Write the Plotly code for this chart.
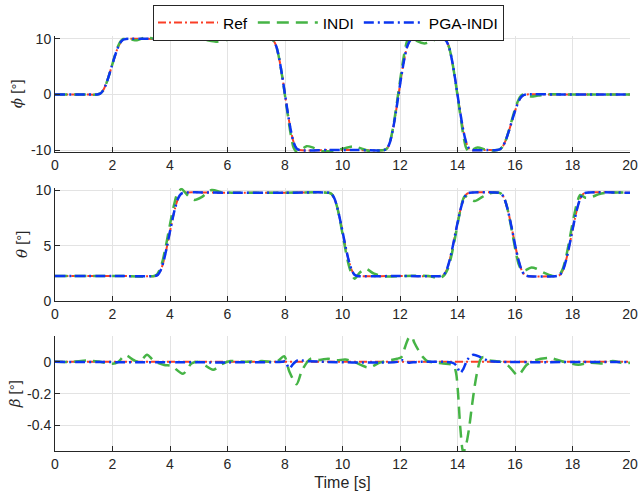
import plotly.graph_objects as go

# ---------------- data ----------------
legend_names = ["Ref", "INDI", "PGA-INDI"]
x_ticks = [0, 2, 4, 6, 8, 10, 12, 14, 16, 18, 20]
phi_ticks = [-10, 0, 10]
phi_ticktext = ["-10", "0", "10"]
theta_ticks = [0, 5, 10]
theta_ticktext = ["0", "5", "10"]
beta_ticks = [-0.4, -0.2, 0]
beta_ticktext = ["-0.4", "-0.2", "0"]

# phi [deg]
t_ref_phi = [0, 1.0, 1.47,
             1.57, 1.67, 1.77, 1.87, 1.97, 2.07, 2.17, 2.27, 2.37, 2.47,
             3.5, 5.0, 6.5, 7.5,
             7.6, 7.7, 7.8, 7.9, 8.0, 8.1, 8.2, 8.3, 8.4, 8.5,
             9.5, 10.5, 11.45,
             11.55, 11.65, 11.75, 11.85, 11.95, 12.05, 12.15, 12.25, 12.35, 12.45,
             13.0, 13.5,
             13.6, 13.7, 13.8, 13.9, 14.0, 14.1, 14.2, 14.3, 14.4, 14.5,
             15.0, 15.38,
             15.48, 15.58, 15.68, 15.78, 15.88, 15.98, 16.08, 16.18, 16.28, 16.38,
             17.5, 19.0, 20.0]
ref_phi = [0, 0, 0,
           0.15, 0.7, 1.8, 3.3, 5.0, 6.7, 8.2, 9.3, 9.85, 10,
           10, 10, 10, 10,
           9.7, 8.6, 6.4, 3.4, 0, -3.4, -6.4, -8.6, -9.7, -10,
           -10, -10, -10,
           -9.7, -8.6, -6.4, -3.4, 0, 3.4, 6.4, 8.6, 9.7, 10,
           10, 10,
           9.7, 8.6, 6.4, 3.4, 0, -3.4, -6.4, -8.6, -9.7, -10,
           -10, -10,
           -9.85, -9.3, -8.2, -6.7, -5.0, -3.3, -1.8, -0.7, -0.15, 0,
           0, 0, 0]
t_pga_phi = list(t_ref_phi)
pga_phi = list(ref_phi)
t_indi_phi = [0, 1.0, 1.47, 1.57, 1.67, 1.77, 1.87, 1.97, 2.07, 2.17,
              2.27, 2.37, 2.5, 2.65, 2.85, 3.15, 3.45, 4.0, 4.8, 5.2,
              5.6, 6.0, 6.4, 6.8, 7.3, 7.5, 7.6, 7.7, 7.8, 7.9,
              8.0, 8.1, 8.2, 8.3, 8.4, 8.55, 8.75, 9.0, 9.3, 9.7,
              10.05, 10.4, 10.7, 10.95, 11.2, 11.45, 11.55, 11.65, 11.75, 11.85,
              11.95, 12.05, 12.15, 12.25, 12.35, 12.45, 12.6, 12.85, 13.1, 13.4,
              13.5, 13.6, 13.7, 13.8, 13.9, 14.0, 14.1, 14.2, 14.3, 14.4,
              14.5, 14.7, 14.95, 15.2, 15.38, 15.48, 15.58, 15.68, 15.78, 15.88,
              15.98, 16.08, 16.18, 16.28, 16.38, 16.55, 16.8, 17.2, 18.0, 20.0]
indi_phi = [0, 0, 0, 0.15, 0.7, 1.8, 3.3, 5.0, 6.8, 8.4,
            9.5, 10.0, 10.05, 9.9, 9.75, 10.3, 10.05, 10.0, 10.0, 9.85,
            9.5, 9.85, 10.15, 10.05, 10.0, 10.0, 9.7, 8.6, 6.4, 3.3,
            -0.2, -3.8, -7.2, -9.6, -10.3, -10.0, -9.3, -9.6, -10.2, -10.1,
            -9.7, -9.35, -9.8, -10.2, -10.1, -10.0, -9.7, -8.5, -6.2, -3.0,
            0.6, 4.2, 7.4, 9.7, 10.5, 10.2, 9.6, 9.2, 9.6, 10.3,
            10.1, 9.6, 8.6, 6.4, 3.3, -0.2, -3.8, -7.2, -9.6, -10.3,
            -10.0, -9.55, -9.85, -10.1, -10.0, -9.85, -9.3, -8.2, -6.6, -4.8,
            -3.0, -1.5, -0.4, 0.0, -0.1, -0.35, -0.2, 0.05, 0, 0]

# theta [deg]
t_ref_theta = [0, 2.0, 3.48,
               3.58, 3.68, 3.78, 3.88, 3.98, 4.08, 4.18, 4.28, 4.38, 4.48,
               6.0, 8.0, 9.52,
               9.62, 9.72, 9.82, 9.92, 10.02, 10.12, 10.22, 10.32, 10.42, 10.52,
               12.0, 13.42,
               13.52, 13.62, 13.72, 13.82, 13.92, 14.02, 14.12, 14.22, 14.32, 14.42,
               15.43,
               15.53, 15.63, 15.73, 15.83, 15.93, 16.03, 16.13, 16.23, 16.33, 16.43,
               17.47,
               17.57, 17.67, 17.77, 17.87, 17.97, 18.07, 18.17, 18.27, 18.37, 18.47,
               20.0]
ref_theta = [2.25, 2.25, 2.25,
             2.36, 2.78, 3.61, 4.74, 6.03, 7.31, 8.44, 9.27, 9.69, 9.8,
             9.8, 9.8, 9.8,
             9.69, 9.27, 8.44, 7.31, 6.03, 4.74, 3.61, 2.78, 2.36, 2.25,
             2.25, 2.25,
             2.36, 2.78, 3.61, 4.74, 6.03, 7.31, 8.44, 9.27, 9.69, 9.8,
             9.8,
             9.69, 9.27, 8.44, 7.31, 6.03, 4.74, 3.61, 2.78, 2.36, 2.25,
             2.25,
             2.36, 2.78, 3.61, 4.74, 6.03, 7.31, 8.44, 9.27, 9.69, 9.8,
             9.8]
t_pga_theta = list(t_ref_theta)
pga_theta = list(ref_theta)
t_indi_theta = [0, 2.0, 3.45,
                3.55, 3.65, 3.75, 3.85, 3.95, 4.05, 4.15, 4.25,
                4.4, 4.6, 4.85, 5.1, 5.45, 5.8, 6.3, 8.0,
                9.52, 9.62, 9.72, 9.82, 9.92, 10.02, 10.12, 10.22, 10.32, 10.42,
                10.6, 10.8, 11.1, 11.5, 12.2, 13.0, 13.3,
                13.45, 13.55, 13.65, 13.75, 13.85, 13.95, 14.05, 14.15, 14.25,
                14.4, 14.6, 14.85, 15.1,
                15.43, 15.53, 15.63, 15.73, 15.83, 15.93, 16.03, 16.13, 16.23,
                16.35, 16.55, 16.75, 17.0, 17.3,
                17.47, 17.57, 17.67, 17.77, 17.87, 17.97, 18.07, 18.17, 18.27,
                18.45, 18.65, 18.9, 19.2, 20.0]
indi_theta = [2.25, 2.25, 2.25,
              2.4, 2.85, 3.7, 4.9, 6.25, 7.6, 8.8, 9.7,
              10.15, 9.6, 9.15, 9.4, 10.05, 9.85, 9.8, 9.8,
              9.8, 9.69, 9.27, 8.44, 7.2, 5.8, 4.4, 3.2, 2.4, 2.0,
              2.55, 2.9, 2.45, 2.2, 2.25, 2.25, 2.05,
              2.15, 2.35, 2.8, 3.65, 4.85, 6.2, 7.6, 8.8, 9.5,
              9.3, 9.05, 9.4, 9.75,
              9.8, 9.69, 9.27, 8.44, 7.2, 5.8, 4.4, 3.3, 2.8,
              2.75, 3.0, 2.9, 2.55, 2.25,
              2.25, 2.45, 2.95, 3.9, 5.2, 6.6, 7.9, 9.0, 9.6,
              9.35, 9.4, 9.65, 9.8, 9.8]

# beta [deg]
t_ref_beta = [0, 20]
ref_beta = [0, 0]
t_pga_beta = [0, 7.9, 8.0, 8.15, 8.3, 8.45, 8.8, 11.9, 12.05, 12.3, 12.6,
              13.8, 13.95, 14.1, 14.2, 14.35, 14.55, 14.8, 15.1, 15.5, 20]
pga_beta = [0, 0, 0.003, -0.04, -0.01, 0.01, 0.004, 0.0, 0.012, -0.005, 0.0,
            -0.005, -0.02, -0.068, -0.045, 0.015, 0.045, 0.03, 0.005, 0.0, 0.0]
t_indi_beta = [0, 0.6, 1.1, 1.5, 2.0, 2.2, 2.45, 2.75, 2.95, 3.2,
               3.45, 3.8, 4.05, 4.45, 4.75, 5.0, 5.2, 5.5, 5.8, 6.1,
               6.6, 7.2, 7.7, 7.97, 8.15, 8.4, 8.6, 8.9, 9.2, 9.5,
               9.8, 10.1, 10.4, 10.9, 11.3, 11.9, 12.05, 12.18, 12.3, 12.4,
               12.5, 12.65, 12.8, 12.95, 13.2, 13.5, 13.85, 13.95, 14.02, 14.1,
               14.2, 14.3, 14.4, 14.5, 14.6, 14.7, 14.8, 14.9, 15.1, 15.5,
               15.8, 16.1, 16.4, 16.7, 17.2, 17.6, 18.2, 18.6, 19.0, 19.4,
               19.8, 20.0]
indi_beta = [0, 0, 0.008, 0.003, -0.012, 0.0, 0.042, 0.01, 0.0, 0.045,
             0.005, -0.02, -0.025, -0.075, -0.01, 0.0, -0.02, -0.05, -0.015, 0.005,
             0.0, 0.005, 0.0, 0.035, -0.06, -0.14, -0.05, 0.02, 0.012, 0.02,
             0.01, 0.015, 0.0, -0.035, -0.005, 0.02, 0.03, 0.095, 0.15, 0.16,
             0.12, 0.07, 0.03, 0.005, -0.005, -0.01, -0.02, -0.07, -0.2, -0.42,
             -0.57, -0.52, -0.42, -0.28, -0.15, -0.05, 0.015, 0.03, 0.01, 0.0,
             -0.03, -0.085, -0.02, 0.01, 0.025, 0.005, -0.018, -0.005, -0.01, 0.005,
             -0.01, -0.005]

# ---------------- styles ----------------
RED, GREEN, BLUE = "#FA3E26", "#46B446", "#0B36F0"
styles = [
    dict(color=RED, width=2, dash="8px,3px,2px,3px"),
    dict(color=GREEN, width=2.5, dash="12px,7px"),
    dict(color=BLUE, width=2.5, dash="10px,4px,2px,4px"),
]

panels = [
    ("x", "y", [(t_ref_phi, ref_phi), (t_indi_phi, indi_phi), (t_pga_phi, pga_phi)]),
    ("x2", "y2", [(t_ref_theta, ref_theta), (t_indi_theta, indi_theta), (t_pga_theta, pga_theta)]),
    ("x3", "y3", [(t_ref_beta, ref_beta), (t_indi_beta, indi_beta), (t_pga_beta, pga_beta)]),
]

fig = go.Figure()
for p, (xa, ya, series) in enumerate(panels):
    for k, (tt, vv) in enumerate(series):
        fig.add_trace(go.Scatter(
            x=tt, y=vv, mode="lines", xaxis=xa, yaxis=ya,
            name=legend_names[k], legendgroup=legend_names[k],
            showlegend=(p == 0),
            line=dict(shape="spline", smoothing=0.8, **styles[k]),
        ))

FONT = "Liberation Sans, Arial, Helvetica, sans-serif"
TXT = "#262626"
axis_common = dict(
    showline=True, linecolor="#262626", linewidth=1,
    ticks="inside", ticklen=5, tickcolor="#262626", tickwidth=1,
    showgrid=True, gridcolor="#E3E3E3", gridwidth=1,
    zeroline=False, mirror=False, automargin=False,
    tickfont=dict(family=FONT, size=14, color=TXT),
)


def ytitle(sym):
    return ('<span style="font-family:DejaVu Serif">' + '<i>' + sym + '</i></span> [°]')


xa_common = dict(axis_common, range=[0, 20], tickvals=x_ticks, domain=[0, 1],
                 ticklabeloverflow="allow")
title_font = dict(family=FONT, size=15, color=TXT)
fig.update_layout(
    xaxis=dict(xa_common, anchor="y"),
    xaxis2=dict(xa_common, anchor="y2"),
    xaxis3=dict(xa_common, anchor="y3",
                title=dict(text="Time [s]", font=dict(family=FONT, size=16, color=TXT),
                           standoff=6)),
    yaxis=dict(axis_common, anchor="x", domain=[0.696, 0.9288], range=[-10.35, 10.6],
               tickvals=phi_ticks, ticktext=phi_ticktext,
               title=dict(text=ytitle("ϕ"), font=title_font, standoff=4)),
    yaxis2=dict(axis_common, anchor="x2", domain=[0.3986, 0.6244], range=[0, 10.25],
                tickvals=theta_ticks, ticktext=theta_ticktext,
                title=dict(text=ytitle("θ"), font=title_font, standoff=4)),
    yaxis3=dict(axis_common, anchor="x3", domain=[0.098, 0.3272], range=[-0.56, 0.16],
                tickvals=beta_ticks, ticktext=beta_ticktext,
                title=dict(text=ytitle("β"), font=title_font, standoff=2)),
    width=639, height=500,
    margin=dict(l=55, r=9, t=0, b=0, autoexpand=False),
    plot_bgcolor="white", paper_bgcolor="white",
    font=dict(family=FONT, size=14, color=TXT),
    legend=dict(orientation="h", xref="container", x=153 / 639, xanchor="left",
                yref="container", y=1 - 5 / 500, yanchor="top",
                bgcolor="white", bordercolor="#262626", borderwidth=1,
                font=dict(family=FONT, size=15.5, color="#000000"),
                itemwidth=60, tracegroupgap=0),
)

fig.write_html("out.html", config={"displayModeBar": False},
               post_script="document.body.style.margin='0px';"
                           "document.body.style.overflow='hidden';")
